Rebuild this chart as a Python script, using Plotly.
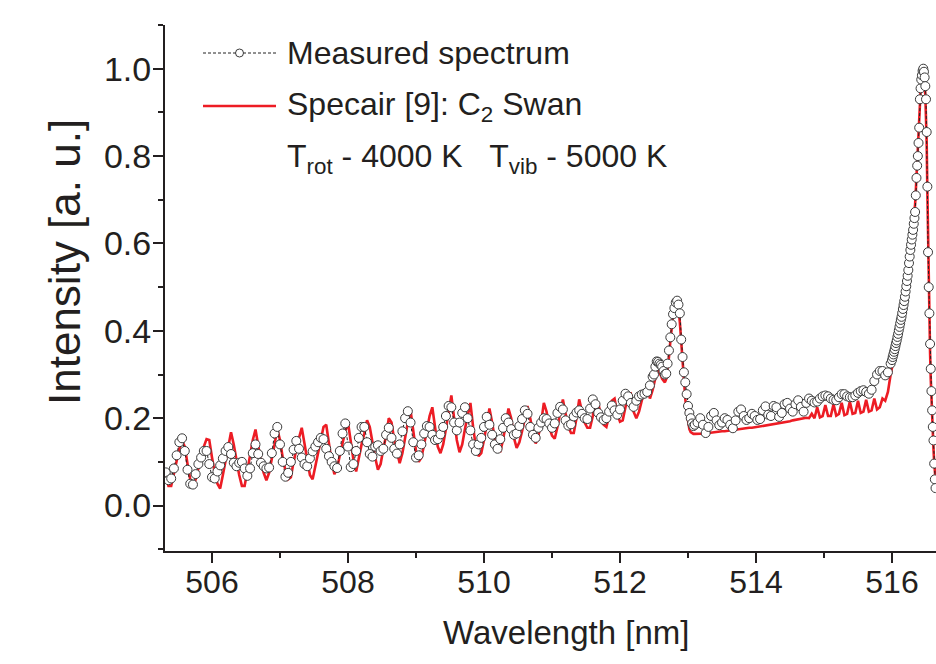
import numpy as np
import plotly.graph_objects as go

# ---------------- data ----------------
# Wavelength grid segments: (start nm, step nm); values below are listed per segment
seg_start = [505.32, 512.50, 513.10, 516.00]
seg_step = [0.04, 0.02, 0.04, 0.01]

measured_seg1 = [
    0.076, 0.058, 0.062, 0.085, 0.115, 0.145, 0.154, 0.125, 0.082, 0.050,
    0.048, 0.072, 0.095, 0.110, 0.125, 0.125, 0.095, 0.065, 0.062, 0.078,
    0.092, 0.108, 0.125, 0.134, 0.118, 0.098, 0.090, 0.098, 0.100, 0.085,
    0.068, 0.085, 0.120, 0.140, 0.118, 0.098, 0.090, 0.085, 0.087, 0.120,
    0.165, 0.180, 0.140, 0.100, 0.066, 0.075, 0.100, 0.128, 0.148, 0.130,
    0.110, 0.095, 0.090, 0.108, 0.124, 0.135, 0.145, 0.155, 0.152, 0.130,
    0.113, 0.100, 0.090, 0.086, 0.125, 0.165, 0.188, 0.135, 0.088, 0.095,
    0.125, 0.155, 0.180, 0.180, 0.145, 0.118, 0.112, 0.135, 0.138, 0.125,
    0.130, 0.162, 0.178, 0.155, 0.130, 0.119, 0.140, 0.170, 0.200, 0.216,
    0.190, 0.145, 0.110, 0.115, 0.140, 0.165, 0.182, 0.180, 0.162, 0.150,
    0.152, 0.163, 0.180, 0.205, 0.228, 0.225, 0.190, 0.172, 0.190, 0.212,
    0.225, 0.200, 0.172, 0.140, 0.125, 0.140, 0.155, 0.180, 0.203, 0.185,
    0.162, 0.140, 0.130, 0.152, 0.178, 0.200, 0.190, 0.175, 0.162, 0.165,
    0.182, 0.198, 0.218, 0.210, 0.180, 0.162, 0.155, 0.178, 0.190, 0.200,
    0.198, 0.188, 0.178, 0.188, 0.212, 0.226, 0.220, 0.195, 0.183, 0.186,
    0.204, 0.213, 0.218, 0.210, 0.200, 0.198, 0.222, 0.243, 0.232, 0.212,
    0.202, 0.196, 0.200, 0.215, 0.229, 0.218, 0.208, 0.220, 0.240, 0.256,
    0.250, 0.235, 0.226, 0.240, 0.250, 0.254, 0.256, 0.260, 0.275, 0.295,
]
measured_seg2 = [
    0.300, 0.318, 0.330, 0.329, 0.325, 0.322, 0.318, 0.308, 0.300, 0.302,
    0.325, 0.355, 0.385, 0.415, 0.438, 0.452, 0.465, 0.469, 0.460, 0.440,
    0.380, 0.340, 0.305, 0.282, 0.255, 0.228, 0.212, 0.200, 0.188, 0.182,
]
measured_seg3 = [
    0.185, 0.190, 0.200, 0.185, 0.166, 0.180, 0.205, 0.212, 0.195, 0.184,
    0.190, 0.200, 0.196, 0.185, 0.177, 0.195, 0.215, 0.220, 0.205, 0.196,
    0.200, 0.210, 0.205, 0.196, 0.198, 0.218, 0.227, 0.208, 0.205, 0.228,
    0.225, 0.203, 0.212, 0.232, 0.235, 0.222, 0.215, 0.232, 0.241, 0.226,
    0.215, 0.235, 0.245, 0.240, 0.236, 0.238, 0.245, 0.250, 0.252, 0.250,
    0.245, 0.242, 0.241, 0.248, 0.255, 0.255, 0.250, 0.248, 0.248, 0.252,
    0.258, 0.262, 0.264, 0.260, 0.256, 0.265, 0.285, 0.300, 0.308, 0.308,
    0.298, 0.305, 0.325,
]
measured_seg4 = [
    0.333, 0.340, 0.346, 0.352, 0.358, 0.365, 0.372, 0.378, 0.386, 0.393,
    0.401, 0.409, 0.417, 0.425, 0.432, 0.441, 0.450, 0.459, 0.468, 0.478,
    0.490, 0.502, 0.514, 0.526, 0.539, 0.555, 0.570, 0.585, 0.597, 0.609,
    0.620, 0.631, 0.645, 0.658, 0.672, 0.710, 0.750, 0.778, 0.800, 0.830,
    0.865, 0.930, 0.955, 0.975, 0.985, 0.995, 1.000, 0.993, 0.980, 0.960,
    0.930, 0.855, 0.730, 0.580, 0.500, 0.440, 0.370, 0.313, 0.262, 0.218,
    0.180, 0.149, 0.096, 0.060, 0.040,
]

specair_seg1 = [
    0.070, 0.045, 0.045, 0.075, 0.105, 0.130, 0.148, 0.135, 0.095, 0.060,
    0.042, 0.060, 0.085, 0.110, 0.135, 0.152, 0.150, 0.110, 0.075, 0.050,
    0.039, 0.070, 0.100, 0.135, 0.168, 0.140, 0.100, 0.070, 0.045, 0.045,
    0.080, 0.115, 0.150, 0.174, 0.135, 0.100, 0.075, 0.058, 0.075, 0.105,
    0.140, 0.175, 0.150, 0.110, 0.080, 0.060, 0.065, 0.100, 0.130, 0.155,
    0.178, 0.140, 0.100, 0.070, 0.060, 0.090, 0.120, 0.150, 0.180, 0.185,
    0.140, 0.100, 0.072, 0.085, 0.115, 0.145, 0.170, 0.190, 0.150, 0.105,
    0.078, 0.110, 0.140, 0.165, 0.195, 0.180, 0.140, 0.110, 0.082, 0.095,
    0.130, 0.160, 0.200, 0.190, 0.150, 0.120, 0.097, 0.120, 0.160, 0.190,
    0.218, 0.170, 0.125, 0.100, 0.110, 0.140, 0.170, 0.205, 0.225, 0.175,
    0.135, 0.120, 0.140, 0.175, 0.210, 0.252, 0.200, 0.150, 0.122, 0.140,
    0.175, 0.205, 0.235, 0.180, 0.135, 0.113, 0.120, 0.150, 0.185, 0.222,
    0.190, 0.150, 0.125, 0.124, 0.150, 0.185, 0.222, 0.200, 0.155, 0.132,
    0.145, 0.170, 0.200, 0.228, 0.200, 0.165, 0.142, 0.160, 0.190, 0.235,
    0.215, 0.180, 0.160, 0.153, 0.180, 0.215, 0.243, 0.210, 0.180, 0.166,
    0.166, 0.200, 0.243, 0.215, 0.190, 0.178, 0.178, 0.205, 0.240, 0.235,
    0.205, 0.185, 0.180, 0.205, 0.240, 0.245, 0.210, 0.192, 0.195, 0.225,
    0.250, 0.255, 0.215, 0.200, 0.215, 0.240, 0.262, 0.268, 0.245, 0.265,
]
specair_seg2 = [
    0.280, 0.295, 0.305, 0.310, 0.305, 0.298, 0.290, 0.285, 0.282, 0.290,
    0.310, 0.340, 0.375, 0.410, 0.435, 0.450, 0.460, 0.462, 0.450, 0.420,
    0.370, 0.320, 0.280, 0.245, 0.215, 0.190, 0.175, 0.168, 0.165, 0.164,
]
specair_seg3 = [
    0.164, 0.164, 0.165, 0.165, 0.165, 0.166, 0.167, 0.168, 0.168, 0.169,
    0.170, 0.170, 0.171, 0.172, 0.173, 0.174, 0.175, 0.175, 0.176, 0.177,
    0.178, 0.178, 0.179, 0.180, 0.181, 0.182, 0.183, 0.184, 0.185, 0.186,
    0.187, 0.188, 0.190, 0.191, 0.192, 0.193, 0.195, 0.196, 0.197, 0.198,
    0.200, 0.201, 0.200, 0.210, 0.200, 0.225, 0.202, 0.205, 0.230, 0.205,
    0.205, 0.232, 0.206, 0.210, 0.235, 0.207, 0.210, 0.238, 0.210, 0.212,
    0.240, 0.212, 0.215, 0.242, 0.215, 0.218, 0.245, 0.220, 0.225, 0.245,
    0.240, 0.260, 0.300,
]
specair_seg4 = [
    0.315, 0.322, 0.330, 0.338, 0.345, 0.352, 0.360, 0.367, 0.375, 0.383,
    0.391, 0.400, 0.408, 0.416, 0.425, 0.434, 0.443, 0.453, 0.463, 0.473,
    0.485, 0.497, 0.510, 0.522, 0.535, 0.550, 0.565, 0.580, 0.595, 0.610,
    0.625, 0.640, 0.655, 0.672, 0.690, 0.720, 0.755, 0.790, 0.820, 0.855,
    0.890, 0.930, 0.960, 0.980, 0.992, 0.998, 0.995, 0.985, 0.965, 0.940,
    0.900, 0.830, 0.720, 0.600, 0.500, 0.420, 0.350, 0.290, 0.240, 0.200,
    0.165, 0.130, 0.100, 0.075, 0.060,
]

x_ticks = [506, 508, 510, 512, 514, 516]
y_ticks = [0.0, 0.2, 0.4, 0.6, 0.8, 1.0]

legend_measured = "Measured spectrum"
legend_specair = "Specair [9]: C<sub>2</sub> Swan"
legend_temps = "T<sub>rot</sub> - 4000 K\u00a0\u00a0\u00a0T<sub>vib</sub> - 5000 K"
x_title = "Wavelength [nm]"
y_title = "Intensity [a. u.]"

# ---------------- assemble ----------------
meas_segs = [measured_seg1, measured_seg2, measured_seg3, measured_seg4]
spec_segs = [specair_seg1, specair_seg2, specair_seg3, specair_seg4]
wl = np.concatenate([np.round(s + st * np.arange(len(v)), 3)
                     for s, st, v in zip(seg_start, seg_step, meas_segs)])
meas = np.concatenate(meas_segs)
spec = np.concatenate(spec_segs)
assert len(wl) == len(spec)

FONT = "Liberation Sans, Arial, Helvetica, sans-serif"
INK = "#231f20"
RED = "#ed1c24"

fig = go.Figure()
fig.add_trace(go.Scatter(x=wl, y=spec, mode="lines",
                         line=dict(color=RED, width=2.6), showlegend=False))
fig.add_trace(go.Scatter(x=wl, y=meas, mode="lines+markers",
                         line=dict(color="#222222", width=1, dash="3px,2px"),
                         marker=dict(symbol="circle", size=9, color="white",
                                     line=dict(color="#3a3a3a", width=1)),
                         showlegend=False))

L, R, T, B = 165, 0, 25, 113
W, H = 936, 664
pw, ph = W - L - R, H - T - B


def px(xp):
    return (xp - L) / pw


def py(yp):
    return (H - B - yp) / ph


# manual legend (styled like the reference)
fig.add_shape(type="line", xref="paper", yref="paper",
              x0=px(203), x1=px(276), y0=py(53), y1=py(53),
              line=dict(color="#222222", width=1, dash="3px,2px"))
fig.add_shape(type="circle", xref="paper", yref="paper",
              xsizemode="pixel", ysizemode="pixel",
              xanchor=px(239.5), yanchor=py(53), x0=-4, x1=4, y0=-4, y1=4,
              line=dict(color="#3a3a3a", width=1), fillcolor="white")
fig.add_shape(type="line", xref="paper", yref="paper",
              x0=px(203), x1=px(276), y0=py(106), y1=py(106),
              line=dict(color=RED, width=2.6))
for txt, ypx in [(legend_measured, 53), (legend_specair, 106), (legend_temps, 158)]:
    fig.add_annotation(text=txt, xref="paper", yref="paper", x=px(285), y=py(ypx),
                       xanchor="left", yanchor="middle", showarrow=False,
                       font=dict(family=FONT, size=32, color=INK))

fig.add_annotation(text=x_title, xref="paper", yref="paper", x=px(566), y=py(632),
                   xanchor="center", yanchor="middle", showarrow=False,
                   font=dict(family=FONT, size=33, color=INK))
fig.add_annotation(text=y_title, xref="paper", yref="paper", x=px(64), y=py(262),
                   xanchor="center", yanchor="middle", showarrow=False, textangle=-90,
                   font=dict(family=FONT, size=44, color=INK))

axis_common = dict(showline=True, linecolor=INK, linewidth=2, ticks="outside",
                   ticklen=10, tickwidth=2, tickcolor=INK, showgrid=False,
                   zeroline=False, mirror=False, automargin=False)
fig.update_xaxes(range=[505.309, 516.647], tickvals=x_ticks,
                 ticktext=[str(v) for v in x_ticks],
                 tickfont=dict(family=FONT, size=32, color=INK),
                 ticklabelstandoff=-8,
                 minor=dict(dtick=1, tick0=505, ticklen=5, tickwidth=2, tickcolor=INK, ticks="outside"),
                 **axis_common)
fig.update_yaxes(range=[-0.104, 1.1], tickvals=y_ticks,
                 ticktext=[f"{v:.1f}" for v in y_ticks],
                 tickfont=dict(family=FONT, size=34, color=INK),
                 ticklabelstandoff=-5,
                 minor=dict(dtick=0.1, tick0=0, ticklen=5, tickwidth=2, tickcolor=INK, ticks="outside"),
                 **axis_common)

fig.update_layout(width=W, height=H, margin=dict(l=L, r=R, t=T, b=B, pad=0),
                  plot_bgcolor="white", paper_bgcolor="white", showlegend=False)

fig.write_html("out.html", config={"displayModeBar": False, "staticPlot": True},
               post_script="document.body.style.margin='0';document.body.style.overflow='hidden';")
